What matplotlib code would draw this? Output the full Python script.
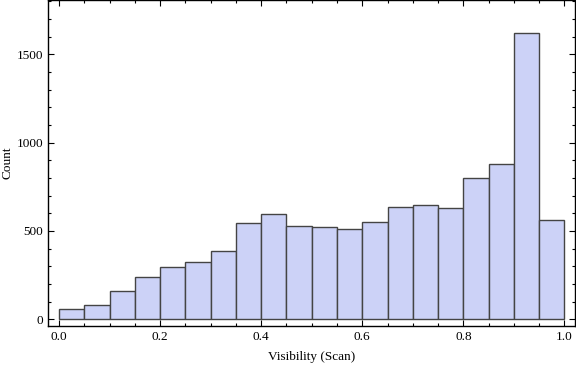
import numpy as np
import matplotlib
matplotlib.use("Agg")
import matplotlib.pyplot as plt
from matplotlib.ticker import MultipleLocator

# histogram bins (width 0.05) and counts
bin_edges = [round(0.05 * i, 2) for i in range(21)]
counts = [57, 79, 158, 238, 294, 326, 385, 543, 594, 526,
          521, 509, 549, 634, 645, 628, 798, 877, 1619, 560]

plt.rcParams['font.family'] = ['Liberation Serif', 'DejaVu Serif']

fig = plt.figure(figsize=(5.76, 3.66), dpi=100)
ax = fig.add_axes([48 / 576, 1 - 326 / 366, (575 - 48) / 576, 326 / 366])

ax.bar(bin_edges[:-1], counts, width=0.05, align="edge",
       color="#ccd2f7", edgecolor="#444444", linewidth=1.0)

ax.set_xlim(-0.022, 1.021)
ax.set_ylim(-38, 1807)

ax.xaxis.set_major_locator(MultipleLocator(0.2))
ax.xaxis.set_minor_locator(MultipleLocator(0.05))
ax.yaxis.set_major_locator(MultipleLocator(500))
ax.yaxis.set_minor_locator(MultipleLocator(100))
ax.xaxis.set_major_formatter(matplotlib.ticker.FormatStrFormatter("%.1f"))

ax.tick_params(which="both", direction="in", top=True, right=True,
               labelsize=9.5, width=0.8)
ax.tick_params(which="major", length=4.5)
ax.tick_params(which="minor", length=2.5)
for s in ax.spines.values():
    s.set_linewidth(1.0)

ax.set_xlabel("Visibility (Scan)", fontsize=9.5, labelpad=6)
ax.set_ylabel("Count", fontsize=9.5)
ax.yaxis.set_label_coords(-0.066, 0.5)

fig.savefig("out.png", dpi=100)
